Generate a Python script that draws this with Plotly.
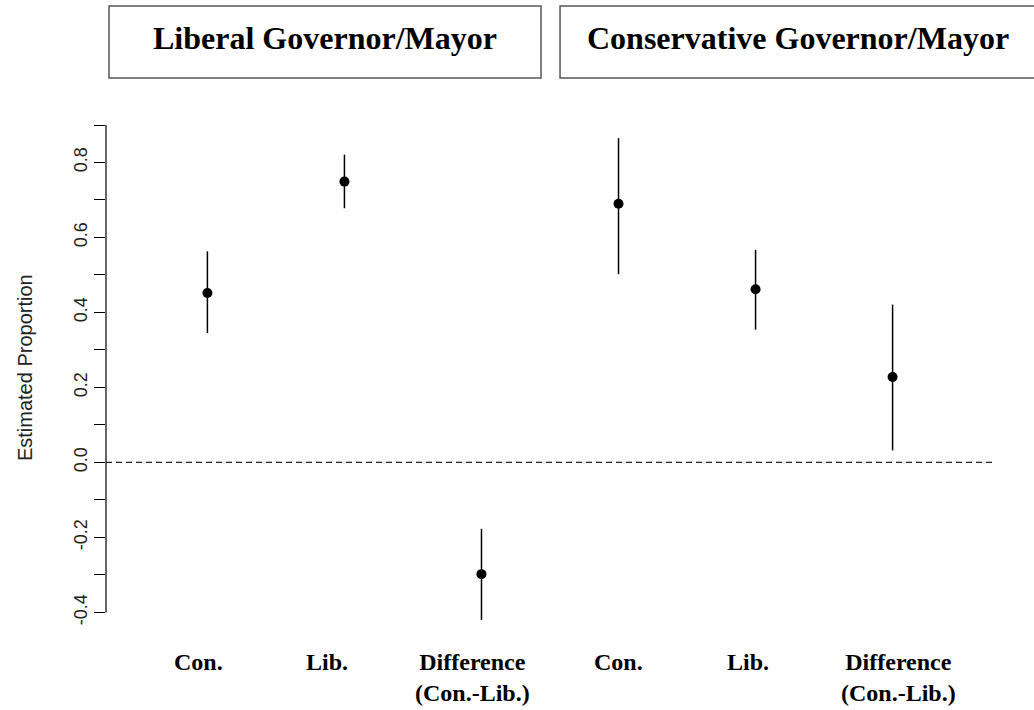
import plotly.graph_objects as go

# ---------------- data ----------------
panel_titles = ["Liberal Governor/Mayor", "Conservative Governor/Mayor"]
categories = ["Con.", "Lib.", "Difference<br>(Con.-Lib.)",
              "Con.", "Lib.", "Difference<br>(Con.-Lib.)"]
estimates = [0.452, 0.749, -0.298, 0.690, 0.462, 0.228]
ci_lower = [0.345, 0.678, -0.420, 0.502, 0.354, 0.032]
ci_upper = [0.563, 0.821, -0.177, 0.865, 0.567, 0.421]
y_tick_values = [-0.4, -0.2, 0.0, 0.2, 0.4, 0.6, 0.8]
y_tick_labels = ["-0.4", "-0.2", "0.0", "0.2", "0.4", "0.6", "0.8"]

# ---------------- layout helpers ----------------
x_pos = list(range(1, len(estimates) + 1))
label_pos = [0.936, 1.874, 2.934, 3.998, 4.942, 6.045]  # where category labels sit
err_plus = [u - e for u, e in zip(ci_upper, estimates)]
err_minus = [e - l for e, l in zip(estimates, ci_lower)]

serif = "Liberation Serif, Times New Roman, serif"
sans = "Liberation Sans, Arial, sans-serif"

fig = go.Figure()
fig.add_trace(go.Scatter(
    x=x_pos, y=estimates, mode="markers",
    marker=dict(color="black", size=10),
    error_y=dict(type="data", symmetric=False, array=err_plus, arrayminus=err_minus,
                 width=0, thickness=1.5, color="black"),
    showlegend=False, hoverinfo="skip",
))

# reference line at zero
fig.add_shape(type="line", xref="paper", x0=0, x1=1, yref="y", y0=0, y1=0,
              line=dict(color="#222", width=1.2, dash="6px,4px"))
# y axis line (R-style, spanning first to last tick)
fig.add_shape(type="line", xref="paper", x0=0, x1=0, yref="y", y0=-0.4, y1=0.9,
              line=dict(color="black", width=1.2))

# panel title boxes
boxes = [(0.0034, 0.4899), (0.5113, 1.0484)]
for (bx0, bx1), title in zip(boxes, panel_titles):
    fig.add_shape(type="rect", xref="paper", yref="paper", x0=bx0, x1=bx1,
                  y0=1.0788, y1=1.2173, line=dict(color="#555", width=1.5),
                  fillcolor="rgba(0,0,0,0)")
title_centers = [0.2466, 0.7798]
for cx, title in zip(title_centers, panel_titles):
    fig.add_annotation(x=cx, y=1.2173, xref="paper", yref="paper",
                       xanchor="center", yanchor="top", yshift=-12,
                       text="<b>%s</b>" % title, showarrow=False,
                       font=dict(family=serif, size=32, color="black"))

# category labels below the plot
for lx, cat in zip(label_pos, categories):
    fig.add_annotation(x=lx, xref="x", y=0, yref="paper",
                       xanchor="center", yanchor="top", yshift=-8,
                       text="<b>%s</b>" % cat, showarrow=False, align="center",
                       font=dict(family=serif, size=24, color="black"))

# y axis title
fig.add_annotation(x=-0.0912, xref="paper", y=0.521, yref="paper",
                   xanchor="center", yanchor="middle", textangle=-90,
                   text="Estimated Proportion", showarrow=False,
                   font=dict(family=sans, size=20, color="#222"))

fig.update_layout(
    width=1034, height=710,
    margin=dict(l=106, r=40, t=119, b=71),
    paper_bgcolor="white", plot_bgcolor="white",
    xaxis=dict(range=[0.26, 6.74], showgrid=False, zeroline=False,
               showline=False, showticklabels=False, ticks=""),
    yaxis=dict(range=[-0.471, 0.916], showgrid=False, zeroline=False,
               showline=False, tickmode="array", tickvals=y_tick_values,
               ticktext=y_tick_labels, ticks="outside", ticklen=11,
               tickwidth=1.2, tickcolor="black", tickangle=-90,
               tickfont=dict(family=sans, size=18, color="#222"),
               minor=dict(dtick=0.1, tick0=0, ticks="outside", ticklen=11,
                          tickwidth=1.2, tickcolor="black", showgrid=False)),
)

fig.write_html("out.html")
